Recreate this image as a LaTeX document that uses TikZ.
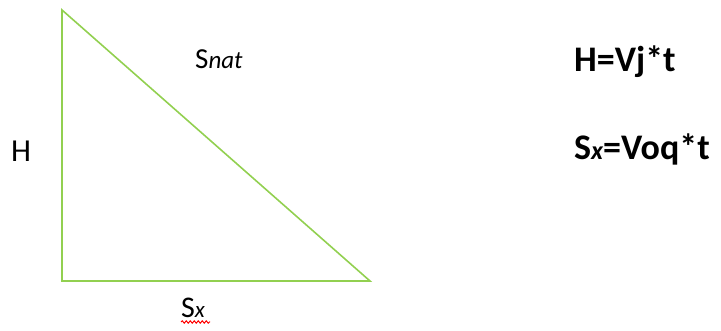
\documentclass[tikz,border=0pt]{standalone}
\usepackage{fontspec}
\setmainfont{Carlito}
\usetikzlibrary{decorations.pathmorphing}
\definecolor{tri}{HTML}{92D050}
\newcommand{\fs}[1]{\fontsize{#1}{#1}\selectfont}
\begin{document}
\begin{tikzpicture}[x=1pt,y=-1pt,
  lbl/.style={inner sep=0pt, anchor=base west},
  side/.style={draw=tri, line width=1.6pt, line join=miter}]
\useasboundingbox (0,0) rectangle (721,331);
\coordinate (A) at (62,10);
\coordinate (B) at (62,281);
\coordinate (C) at (370,281);
\draw[side] (A) -- (B) -- (C) -- cycle;
\node[lbl] (snat) at (195,69) {\fs{29}S{\itshape\fs{25}nat}};
\node[lbl] (h) at (11,162) {\fs{32}H};
\node[lbl] (sx) at (181,318) {\fs{30}S{\itshape\fs{23}x}};
\coordinate (w1) at (181,322);
\coordinate (w2) at (210,322);
\draw[red, line width=1pt, decorate, decoration={snake, amplitude=1.2pt, segment length=4pt}] (w1) -- (w2);
\node[lbl] (f1) at (574,72) {\fs{36}\bfseries H=Vj*t};
\node[lbl] (f2) at (574,160) {\fs{36}\bfseries S{\itshape\fs{26}x}=Voq*t};
\end{tikzpicture}
\end{document}
